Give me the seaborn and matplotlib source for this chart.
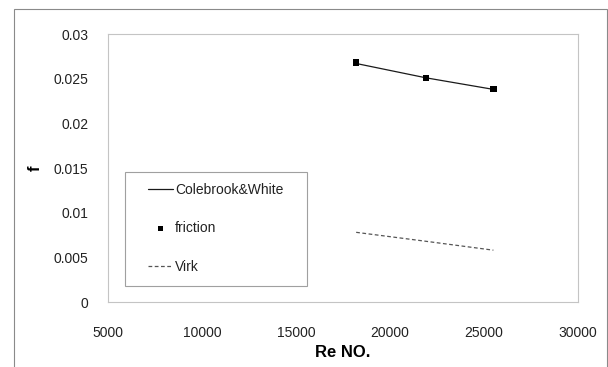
import matplotlib
matplotlib.use("Agg")
import matplotlib.pyplot as plt
from matplotlib.patches import Rectangle
import seaborn as sns
import pandas as pd

# Reynolds numbers of the three runs
re_no = [18200, 21900, 25500]
# friction factor: Colebrook & White correlation
colebrook_white = [0.0267, 0.0251, 0.0238]
# friction factor: measured
friction = [0.0268, 0.0251, 0.0238]
# friction factor: Virk asymptote
virk = [0.0078, 0.0068, 0.0058]

x_ticks = [5000, 10000, 15000, 20000, 25000, 30000]
y_ticks = [0, 0.005, 0.01, 0.015, 0.02, 0.025, 0.03]
y_tick_labels = ["0", "0.005", "0.01", "0.015", "0.02", "0.025", "0.03"]

df = pd.DataFrame({"Re": re_no, "cw": colebrook_white,
                   "friction": friction, "virk": virk})

sns.set_theme(style="white")
plt.rcParams["font.family"] = ["Liberation Sans", "DejaVu Sans"]

fig = plt.figure(figsize=(6.08, 3.67), dpi=100)
ax = fig.add_axes([108 / 608, 1 - 302 / 367, 470 / 608, 268 / 367])

sns.lineplot(data=df, x="Re", y="cw", ax=ax, color="#1a1a1a",
             linewidth=0.9, label="Colebrook&White")
sns.scatterplot(data=df, x="Re", y="friction", ax=ax, marker="s",
                color="black", s=20, edgecolor="none", label="friction", zorder=3)
sns.lineplot(data=df, x="Re", y="virk", ax=ax, color="#555555",
             linewidth=0.9, dashes=False, label="Virk")
ax.lines[-1].set_dashes((3, 2))

ax.set_xlim(5000, 30000)
ax.set_ylim(0, 0.03)
ax.set_xticks(x_ticks)
ax.set_xticklabels([str(v) for v in x_ticks])
ax.set_yticks(y_ticks)
ax.set_yticklabels(y_tick_labels)
ax.tick_params(axis="both", length=0, labelsize=10, colors="#222222")
ax.tick_params(axis="y", pad=14)
ax.tick_params(axis="x", pad=17)

for sp in ax.spines.values():
    sp.set_color("#c4c4c4")
    sp.set_linewidth(0.8)

ax.set_xlabel("Re NO.", fontsize=12, fontweight="bold", color="black", labelpad=4)
ax.set_ylabel("f", fontsize=12, fontweight="bold", color="black", labelpad=8)

# legend box and entries
fig.patches.append(Rectangle((125 / 608, 1 - 286 / 367), 182 / 608, 114 / 367,
                             transform=fig.transFigure, fill=False,
                             edgecolor="#a0a0a0", linewidth=0.8, zorder=5))
leg = ax.legend(loc="upper left", bbox_to_anchor=(148 / 608, 1 - 183 / 367),
                bbox_transform=fig.transFigure, frameon=False, fontsize=10,
                borderpad=0, borderaxespad=0, handlelength=1.8,
                handletextpad=0.15, labelspacing=1.76, markerscale=0.8)
for t in leg.get_texts():
    t.set_color("#222222")
leg.get_lines()[-1].set_dashes((3, 2))

# outer chart frame
fig.patches.append(Rectangle((14 / 608, -0.05), (606.5 - 14) / 608, 1.05 - 9 / 367,
                             transform=fig.transFigure, fill=False,
                             edgecolor="#8a8a8a", linewidth=0.8))

fig.savefig("out.png", dpi=100)
